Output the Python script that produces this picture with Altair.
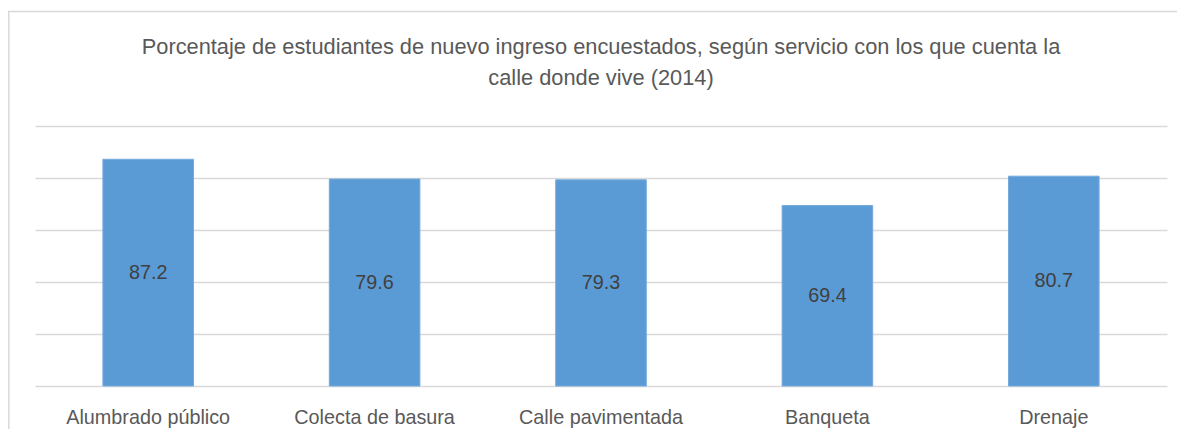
import altair as alt
import pandas as pd

categories = ["Alumbrado público", "Colecta de basura", "Calle pavimentada", "Banqueta", "Drenaje"]
values = [87.2, 79.6, 79.3, 69.4, 80.7]
title_lines = [
    "Porcentaje de estudiantes de nuevo ingreso encuestados, según servicio con los que cuenta la",
    "calle donde vive (2014)",
]

df = pd.DataFrame({"servicio": categories, "pct": values})
FONT = "Liberation Sans"

base = alt.Chart(df).encode(
    x=alt.X(
        "servicio:N",
        sort=categories,
        scale=alt.Scale(paddingInner=0.6, paddingOuter=0.3),
        axis=alt.Axis(
            title=None,
            labelAngle=0,
            labelFontSize=19.8,
            labelFont=FONT,
            labelColor="#595959",
            labelPadding=21,
            ticks=False,
            domain=False,
            grid=False,
        ),
    )
)

bars = base.mark_bar(color="#5b9bd5", stroke="#74a9dc", strokeWidth=1).encode(
    y=alt.Y(
        "pct:Q",
        scale=alt.Scale(domain=[0, 100], nice=False),
        axis=alt.Axis(
            title=None,
            labels=False,
            ticks=False,
            domain=False,
            values=[0, 20, 40, 60, 80, 100],
            gridColor="#d9d9d9",
            gridWidth=1.5,
        ),
    )
)

labels = base.transform_calculate(mid="datum.pct / 2").mark_text(
    fontSize=19.8, font=FONT, color="#404040", baseline="middle"
).encode(
    y=alt.Y("mid:Q"),
    text=alt.Text("pct:Q", format=".1f"),
)

frame_df = pd.DataFrame({"a": [0]})
top_border = alt.Chart(frame_df).mark_rule(color="#d9d9d9", strokeWidth=1.5).encode(
    x=alt.value(-27), x2=alt.value(1160), y=alt.value(-114.5)
)
left_border = alt.Chart(frame_df).mark_rule(color="#d9d9d9", strokeWidth=1.5).encode(
    x=alt.value(-26.2), y=alt.value(-115), y2=alt.value(310)
)

chart = (
    alt.layer(bars, labels, top_border, left_border)
    .properties(
        width=1132,
        height=260,
        background="white",
        title=alt.TitleParams(
            text=title_lines,
            font=FONT,
            fontSize=21.8,
            fontWeight="normal",
            color="#595959",
            anchor="middle",
            frame="group",
            lineHeight=31,
            offset=-80,
        ),
        autosize=alt.AutoSizeParams(type="none"),
        padding={"left": 27, "top": 118, "right": 10, "bottom": 43},
    )
    .configure_view(stroke=None)
)

chart.save("out.html", embed_options={"renderer": "svg", "actions": False})
